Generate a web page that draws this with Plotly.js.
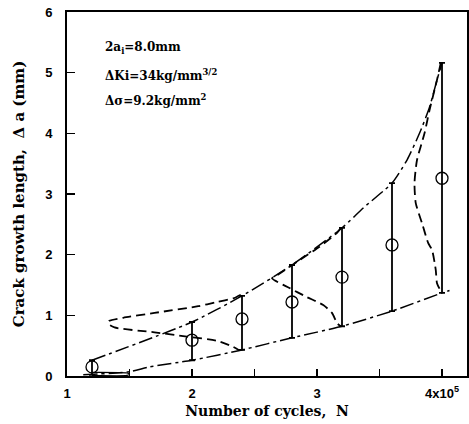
<!DOCTYPE html>
<html>
<head>
<meta charset="utf-8">
<script src="https://cdn.plot.ly/plotly-3.0.1.min.js"></script>
<style>html,body{margin:0;padding:0;background:#fff;}</style>
</head>
<body>
<div id="chart" style="width:469px;height:424px;"></div>
<script>
// Measured scatter bands
var cycles = [1.2, 2.0, 2.4, 2.8, 3.2, 3.6, 4.0];
var meanDa = [0.15, 0.59, 0.94, 1.22, 1.63, 2.16, 3.26];
var maxDa  = [0.26, 0.89, 1.32, 1.83, 2.44, 3.18, 5.16];
var minDa  = [0.02, 0.26, 0.43, 0.63, 0.82, 1.07, 1.37];

// Envelopes (dash-dot)
var upperN = [1.2, 2.0, 2.4, 2.8, 3.2, 3.37, 3.6, 3.72, 3.82, 3.9, 3.96, 4.0];
var upperA = [0.26, 0.89, 1.32, 1.83, 2.44, 2.77, 3.18, 3.56, 4.0, 4.43, 4.88, 5.16];
var lowerN = [1.13, 1.5, 1.66, 2.0, 2.4, 2.8, 3.2, 3.6, 4.0, 4.06];
var lowerA = [0.02, 0.07, 0.15, 0.26, 0.43, 0.63, 0.82, 1.07, 1.37, 1.41];

// Distribution curves (dashed)
var dens12N = [1.2, 1.48, 1.5, 1.48, 1.2];
var dens12A = [0.06, 0.05, 0.03, 0.01, 0.01];
var dens24N = [2.39, 2.33, 2.2, 2.05, 1.7, 1.45, 1.34, 1.33, 1.38, 1.7, 1.96, 2.2, 2.33, 2.38];
var dens24A = [1.34, 1.28, 1.22, 1.15, 1.04, 0.96, 0.91, 0.86, 0.80, 0.72, 0.65, 0.58, 0.48, 0.42];
var dens32N = [3.19, 3.16, 3.02, 2.86, 2.68, 2.64, 2.78, 2.92, 3.05, 3.12, 3.16, 3.19];
var dens32A = [2.44, 2.36, 2.13, 1.91, 1.66, 1.61, 1.45, 1.30, 1.17, 1.04, 0.87, 0.82];
var dens40N = [3.99, 3.96, 3.9, 3.86, 3.8, 3.78, 3.79, 3.84, 3.89, 3.92, 3.95, 3.96, 3.99];
var dens40A = [5.16, 4.88, 4.38, 4.0, 3.56, 3.18, 2.85, 2.52, 2.19, 2.08, 1.75, 1.53, 1.40];

var xTickVals = [1, 2, 3, 4];
var xTickText = ['1', '2', '3', '4x10<sup>5</sup>'];
var yTickVals = [0, 1, 2, 3, 4, 5, 6];
var yTickText = ['0', '1', '2', '3', '4', '5', '6'];

var condLines = ['2a<sub>i</sub>=8.0mm', '\u0394Ki=34kg/mm<sup>3/2</sup>', '\u0394\u03c3=9.2kg/mm<sup>2</sup>'];
var condY = [5.41, 4.96, 4.55];

var dashDot = '14px,4px,3px,4px';
var dashed = '9px,5px';

var traces = [];
function line(xs, ys, dash, w) {
  return {x: xs, y: ys, mode: 'lines', type: 'scatter', hoverinfo: 'skip',
    line: {color: '#000', width: w, dash: dash, shape: 'spline', smoothing: 0.6}};
}
traces.push(line(upperN, upperA, dashDot, 1.5));
traces.push(line(lowerN, lowerA, dashDot, 1.5));
traces.push(line(dens12N, dens12A, 'solid', 1.2));
traces.push(line(dens24N, dens24A, dashed, 1.8));
traces.push(line(dens32N, dens32A, dashed, 1.8));
traces.push(line(dens40N, dens40A, dashed, 1.8));

var plus = maxDa.map(function(v, i){ return v - meanDa[i]; });
var minus = minDa.map(function(v, i){ return meanDa[i] - v; });
traces.push({
  x: cycles, y: meanDa, type: 'scatter', mode: 'markers',
  marker: {symbol: 'circle-open', size: 12, color: '#000', line: {width: 1.3, color: '#000'}},
  error_y: {type: 'data', symmetric: false, array: plus, arrayminus: minus,
            color: '#000', thickness: 1.8, width: 3}
});

var annotations = condLines.map(function(t, i){
  return {x: 1.29, y: condY[i], xref: 'x', yref: 'y', text: t, showarrow: false,
    xanchor: 'left', yanchor: 'middle',
    font: {family: 'DejaVu Serif', size: 12, color: '#000', weight: 'bold'}};
});

var layout = {
  width: 469, height: 424,
  margin: {l: 67, r: 2, t: 12, b: 48},
  paper_bgcolor: '#fff', plot_bgcolor: '#fff',
  showlegend: false,
  xaxis: {
    range: [1, 4.2], tickmode: 'array', tickvals: xTickVals, ticktext: xTickText,
    ticks: 'inside', ticklen: 7, tickwidth: 1.5, tickcolor: '#000',
    minor: {tick0: 1, dtick: 0.5, ticks: 'inside', ticklen: 7, tickwidth: 1.5, tickcolor: '#000', showgrid: false},
    showline: true, mirror: true, linewidth: 2, linecolor: '#000',
    showgrid: false, zeroline: false,
    tickfont: {family: 'Liberation Sans', size: 13, color: '#000', weight: 'bold'},
    ticklabelstandoff: 4,
    title: {text: 'Number of cycles,  N', standoff: 7,
      font: {family: 'DejaVu Serif', size: 14, color: '#000', weight: 'bold'}}
  },
  yaxis: {
    range: [0, 6], tickmode: 'array', tickvals: yTickVals, ticktext: yTickText,
    ticks: 'inside', ticklen: 8, tickwidth: 1.5, tickcolor: '#000',
    showline: true, mirror: true, linewidth: 2, linecolor: '#000',
    showgrid: false, zeroline: false,
    tickfont: {family: 'Liberation Sans', size: 13, color: '#000', weight: 'bold'},
    ticklabelstandoff: 10,
    title: {text: 'Crack growth length,  \u0394 a (mm)', standoff: 17,
      font: {family: 'DejaVu Serif', size: 15, color: '#000', weight: 'bold'}}
  },
  annotations: annotations
};

Plotly.newPlot('chart', traces, layout, {staticPlot: true, displayModeBar: false});
</script>
</body>
</html>
